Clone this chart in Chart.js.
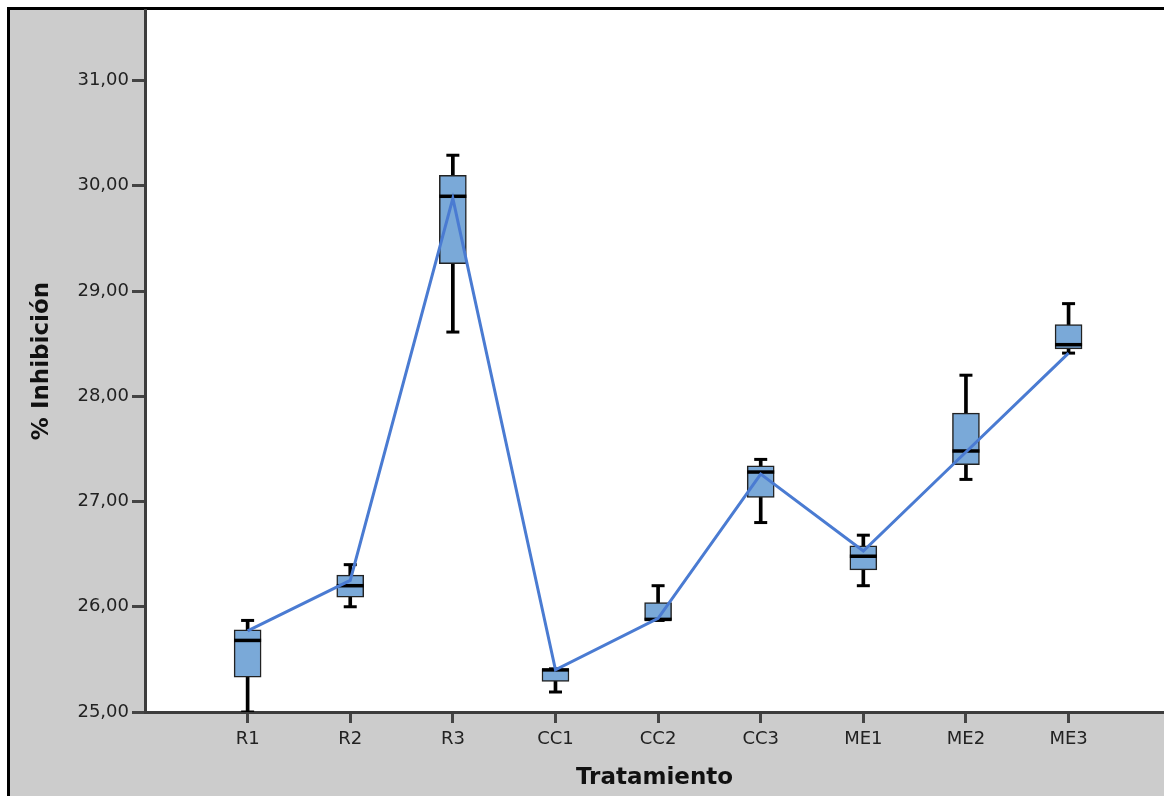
<!DOCTYPE html>
<html lang="es">
<head>
  <meta charset="UTF-8" />
  <title>% Inhibición por tratamiento</title>
  <script src="https://cdn.jsdelivr.net/npm/chart.js"></script>
  <style>
    html, body {
      margin: 0;
      padding: 0;
      background: #fff;
    }
    #wrap {
      width: 1164px;
      height: 796px;
    }
  </style>
</head>
<body>
  <div id="wrap">
    <canvas id="boxChart"></canvas>
  </div>

  <script>
    // tratamientos y estadisticos
    const categories = ['R1', 'R2', 'R3', 'CC1', 'CC2', 'CC3', 'ME1', 'ME2', 'ME3'];
    const whiskerLow  = [25.00, 26.00, 28.61, 25.19, 25.87, 26.80, 26.20, 27.21, 28.41];
    const q1          = [25.33, 26.09, 29.26, 25.29, 25.87, 27.04, 26.35, 27.35, 28.45];
    const medians     = [25.68, 26.20, 29.90, 25.40, 25.88, 27.28, 26.48, 27.48, 28.49];
    const q3          = [25.78, 26.30, 30.10, 25.41, 26.04, 27.34, 26.58, 27.84, 28.68];
    const whiskerHigh = [25.87, 26.40, 30.29, 25.41, 26.20, 27.40, 26.68, 28.20, 28.88];
    const means       = [25.77, 26.25, 29.88, 25.40, 25.89, 27.26, 26.53, 27.47, 28.41];
    const yTicks      = [25, 26, 27, 28, 29, 30, 31];

    const pts = arr => arr.map((v, i) => ({ x: i, y: v }));
    const fmt = v => v.toFixed(2).replace('.', ',');

    // fondo gris, area blanca y marco negro como en SPSS
    const frame = {
      id: 'frame',
      beforeDraw(chart) {
        const { ctx, width, height, chartArea: a } = chart;
        ctx.save();
        ctx.fillStyle = '#fff';
        ctx.fillRect(0, 0, width, height);
        ctx.fillStyle = '#cccccc';
        ctx.fillRect(10, 10, width - 10, height - 10);
        ctx.fillStyle = '#fff';
        ctx.fillRect(a.left, a.top, a.right - a.left, a.bottom - a.top);
        ctx.strokeStyle = '#000';
        ctx.lineWidth = 3;
        ctx.beginPath();
        ctx.moveTo(8.5, height);
        ctx.lineTo(8.5, 8.5);
        ctx.lineTo(width, 8.5);
        ctx.stroke();
        ctx.restore();
      }
    };

    const ctx = document.getElementById('boxChart').getContext('2d');
    new Chart(ctx, {
      type: 'bar',
      data: {
        datasets: [
          {
            type: 'line',
            label: 'Media',
            data: pts(means),
            borderColor: '#4a7bd2',
            borderWidth: 3,
            pointRadius: 0,
            tension: 0,
            order: 0
          },
          {
            type: 'scatter',
            label: 'Mediana',
            data: pts(medians),
            pointStyle: 'line',
            radius: 13.5,
            borderColor: '#000',
            borderWidth: 3.5,
            order: 1
          },
          {
            type: 'scatter',
            label: 'Extremos',
            data: pts(whiskerLow).concat(pts(whiskerHigh)),
            pointStyle: 'line',
            radius: 6.5,
            borderColor: '#000',
            borderWidth: 3,
            order: 2
          },
          {
            label: 'Caja',
            data: categories.map((c, i) => ({ x: i, y: [q1[i], q3[i]] })),
            backgroundColor: '#7aa9d8',
            borderColor: '#222',
            borderWidth: 1.5,
            borderSkipped: false,
            barThickness: 27,
            grouped: false,
            order: 3
          },
          {
            label: 'Bigote',
            data: categories.map((c, i) => ({ x: i, y: [whiskerLow[i], whiskerHigh[i]] })),
            backgroundColor: '#000',
            borderWidth: 0,
            barThickness: 3,
            grouped: false,
            order: 4
          }
        ]
      },
      options: {
        responsive: true,
        maintainAspectRatio: false,
        animation: false,
        layout: {
          autoPadding: false,
          padding: { left: 10, top: 10, right: 0, bottom: 0 }
        },
        plugins: {
          legend: { display: false },
          tooltip: { enabled: false }
        },
        scales: {
          x: {
            type: 'linear',
            min: -1,
            max: 8.93,
            offset: false,
            afterBuildTicks: scale => {
              scale.ticks = categories.map((c, i) => ({ value: i }));
            },
            afterFit: scale => {
              scale.height = 84;
              scale.paddingLeft = 0;
              scale.paddingRight = 0;
            },
            ticks: {
              autoSkip: false,
              maxRotation: 0,
              padding: 6,
              color: '#222',
              font: { family: 'DejaVu Sans', size: 18 },
              callback: v => categories[v]
            },
            grid: {
              offset: false,
              drawOnChartArea: false,
              tickLength: 11,
              tickWidth: 3,
              tickColor: '#444'
            },
            border: { color: '#3c3c3c', width: 3 },
            title: {
              display: true,
              text: 'Tratamiento',
              color: '#111',
              font: { family: 'DejaVu Sans', size: 23, weight: 'bold' },
              padding: { top: 0, bottom: 4 }
            }
          },
          y: {
            min: 25,
            max: 31.67,
            afterBuildTicks: scale => {
              scale.ticks = yTicks.map(v => ({ value: v }));
            },
            afterFit: scale => {
              scale.width = 135;
              scale.paddingTop = 0;
              scale.paddingBottom = 0;
            },
            ticks: {
              padding: 3,
              color: '#222',
              font: { family: 'DejaVu Sans', size: 18 },
              callback: v => fmt(v)
            },
            grid: {
              drawOnChartArea: false,
              tickLength: 13,
              tickWidth: 3,
              tickColor: '#444'
            },
            border: { color: '#3c3c3c', width: 3 },
            title: {
              display: true,
              text: '% Inhibición',
              color: '#111',
              font: { family: 'DejaVu Sans', size: 23, weight: 'bold' },
              padding: { top: 18, bottom: 0 }
            }
          }
        }
      },
      plugins: [frame]
    });
  </script>
</body>
</html>
